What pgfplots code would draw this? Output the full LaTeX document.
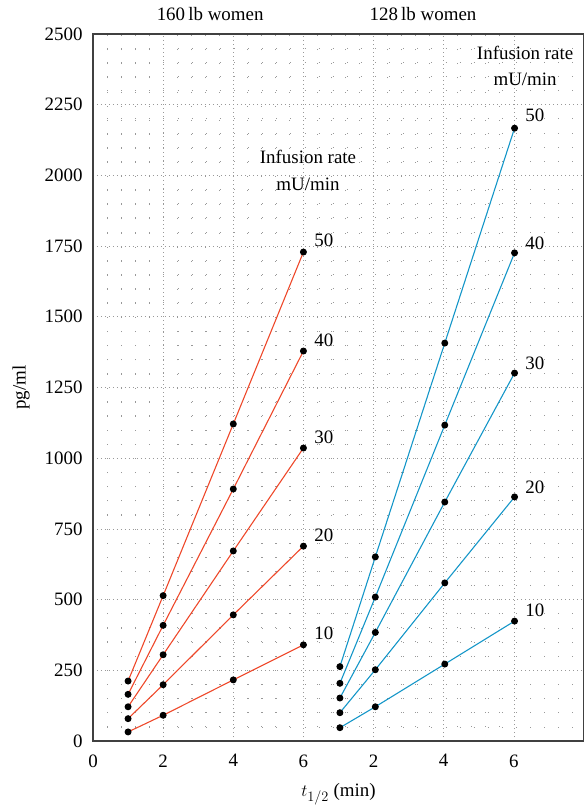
\documentclass[border=0pt]{standalone}
\usepackage{fontspec}
\setmainfont{Liberation Serif}
\usepackage{pgfplots}
\pgfplotsset{compat=1.18}
\definecolor{cred}{RGB}{238,72,42}
\definecolor{cblue}{RGB}{20,150,200}
\begin{document}
\fontsize{19}{22}\selectfont
\begin{tikzpicture}
\useasboundingbox (-93bp,-67bp) rectangle (491bp,741bp);
\begin{axis}[
  at={(0,0)}, anchor=south west,
  scale only axis, width=491bp, height=707bp,
  xmin=0, xmax=14, ymin=0, ymax=2500,
  xtick={0,2,4,6,8,10,12}, xticklabels={0,2,4,6,2,4,6},
  ytick={0,250,...,2500},
  minor x tick num=4, minor y tick num=4,
  /pgf/number format/1000 sep={},
  /pgf/number format/assume math mode=true,
  tick style={draw=none},
  major tick length=0pt,
  grid=both,
  major grid style={gray!80, line width=0.6pt, dash pattern=on 0.7bp off 3.3bp},
  minor grid style={gray!80, line width=0.7pt, dash pattern=on 0.8bp off 13.3bp},
  axis line style={black!75, line width=1.2pt},
  xticklabel style={yshift=-7bp},
  yticklabel style={xshift=-4bp},
  xlabel={$t_{1/2}$ (min)}, ylabel={pg/ml},
  xlabel style={yshift=-3bp},
  ylabel style={yshift=2bp},
  clip=false,
]
% 160 lb women (red)
\addplot[cred, line width=1.1pt, mark=*, mark size=2.9bp, mark options={black, fill=black}] coordinates {(1,32) (2,91) (4,216) (6,340)};
\addplot[cred, line width=1.1pt, mark=*, mark size=2.9bp, mark options={black, fill=black}] coordinates {(1,79) (2,199) (4,446) (6,689)};
\addplot[cred, line width=1.1pt, mark=*, mark size=2.9bp, mark options={black, fill=black}] coordinates {(1,121) (2,305) (4,672) (6,1036)};
\addplot[cred, line width=1.1pt, mark=*, mark size=2.9bp, mark options={black, fill=black}] coordinates {(1,165) (2,409) (4,891) (6,1379)};
\addplot[cred, line width=1.1pt, mark=*, mark size=2.9bp, mark options={black, fill=black}] coordinates {(1,212) (2,514) (4,1121) (6,1729)};
% 128 lb women (blue), plotted at t+6
\addplot[cblue, line width=1.1pt, mark=*, mark size=2.9bp, mark options={black, fill=black}] coordinates {(7.04,47) (8.05,121) (10.03,272) (12.02,424)};
\addplot[cblue, line width=1.1pt, mark=*, mark size=2.9bp, mark options={black, fill=black}] coordinates {(7.04,100) (8.05,252) (10.03,559) (12.02,863)};
\addplot[cblue, line width=1.1pt, mark=*, mark size=2.9bp, mark options={black, fill=black}] coordinates {(7.04,152) (8.05,384) (10.03,845) (12.02,1301)};
\addplot[cblue, line width=1.1pt, mark=*, mark size=2.9bp, mark options={black, fill=black}] coordinates {(7.04,204) (8.05,509) (10.03,1117) (12.02,1726)};
\addplot[cblue, line width=1.1pt, mark=*, mark size=2.9bp, mark options={black, fill=black}] coordinates {(7.04,263) (8.05,651) (10.03,1407) (12.02,2167)};
% labels
\node at (axis cs:6.58,1771) {50};
\node at (axis cs:6.58,1418) {40};
\node at (axis cs:6.58,1075) {30};
\node at (axis cs:6.58,728) {20};
\node at (axis cs:6.58,382) {10};
\node at (axis cs:12.6,2213) {50};
\node at (axis cs:12.6,1761) {40};
\node at (axis cs:12.6,1337) {30};
\node at (axis cs:12.6,898) {20};
\node at (axis cs:12.6,463) {10};
\node[align=center, inner sep=0pt, font=\fontsize{19}{27}\selectfont] at (axis cs:6.13,2019) {Infusion rate\\mU/min};
\node[align=center, inner sep=0pt, font=\fontsize{19}{27}\selectfont] at (axis cs:12.32,2387) {Infusion rate\\mU/min};
\node at (axis cs:3.34,2571) {160\,lb women};
\node at (axis cs:9.41,2571) {128\,lb women};
\end{axis}
\end{tikzpicture}
\end{document}
